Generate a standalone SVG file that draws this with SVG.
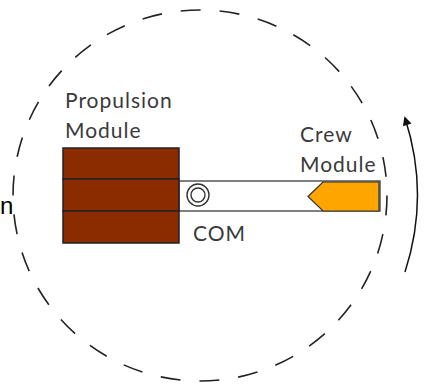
<svg xmlns="http://www.w3.org/2000/svg" width="425" height="385" viewBox="0 0 425 385">
<defs>
<style>
.lbl{font-family:Lato,"Open Sans","Liberation Sans",sans-serif;font-size:21px;letter-spacing:1px;fill:#3a3a3a}
.pm{fill:#8a2b00;stroke:#222;stroke-width:1.5}
</style>
<marker id="ah" viewBox="0 0 10 10" refX="8" refY="5" markerWidth="10" markerHeight="9" orient="auto" markerUnits="userSpaceOnUse">
<path d="M0,0 L10,5 L0,10 Z" fill="#111"/>
</marker>
</defs>
<rect width="425" height="385" fill="#fff"/>
<g id="orbit">
<ellipse cx="200" cy="195.5" rx="187" ry="185.5" fill="none" stroke="#222" stroke-width="1.6" stroke-dasharray="20 19"/>
</g>
<g id="beam">
<rect x="179" y="181" width="201" height="30" fill="#fff" stroke="#555" stroke-width="1.5"/>
</g>
<g id="propulsion">
<rect class="pm" x="63" y="148" width="116" height="31"/>
<rect class="pm" x="63" y="179" width="116" height="32"/>
<rect class="pm" x="63" y="211" width="116" height="32"/>
<text class="lbl" x="65" y="108">Propulsion</text>
<text class="lbl" x="65" y="138">Module</text>
</g>
<g id="com">
<circle cx="198" cy="195" r="11" fill="#fff" stroke="#333" stroke-width="1.4"/>
<circle cx="198" cy="195" r="7" fill="#fff" stroke="#333" stroke-width="1.4"/>
<text class="lbl" x="193" y="241">COM</text>
</g>
<g id="crew">
<polygon points="308,196.5 323,182 379,182 379,211 323,211" fill="#ffa500" stroke="#333" stroke-width="1.2"/>
<text class="lbl" x="300" y="142">Crew</text>
<text class="lbl" x="300" y="172">Module</text>
</g>
<g id="connectors">
<path d="M405,272 Q430,195 405,118" fill="none" stroke="#111" stroke-width="1.5" marker-end="url(#ah)"/>
</g>
<text x="0" y="214" font-family="Liberation Sans,Arial,sans-serif" font-size="24" fill="#000">n</text>
</svg>
